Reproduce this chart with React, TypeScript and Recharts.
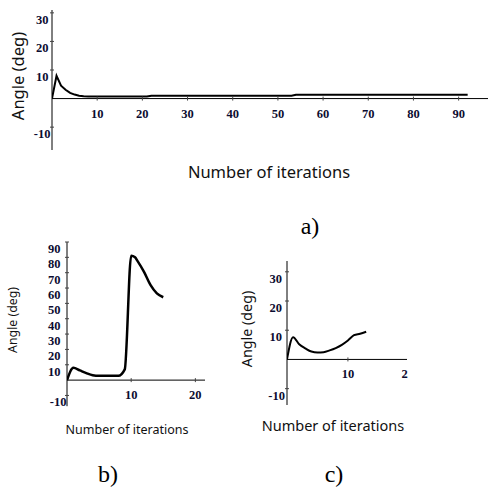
import React from 'react';
import { LineChart, Line, XAxis, YAxis, ReferenceLine, ReferenceDot } from 'recharts';

// a) long run, 92 iterations
const iterA = [0, 1, 2, 3, 4, 5, 6, 7, 8, 21, 22, 53, 54, 92];
const angleA = [0, 8, 4.5, 3.1, 2, 1.4, 1, 0.8, 0.7, 0.7, 1.0, 1.0, 1.3, 1.3];
const yTicksA = [-10, 10, 20, 30];
const xTicksA = [10, 20, 30, 40, 50, 60, 70, 80, 90];
const xLabelsA = ['10', '20', '30', '40', '50', '60', '70', '80', '90'];

// b) jump around iteration 10
const iterB = [0, 1, 2, 3, 4, 5, 6, 7, 8, 9, 10, 10.6, 11, 12, 13, 14, 15];
const angleB = [0, 8, 6.3, 4.6, 3.2, 2.8, 2.8, 2.8, 2.8, 7, 81, 80, 77.5, 70.5, 62, 56.5, 54];
const yTicksB = [-10, 10, 20, 30, 40, 50, 60, 70, 80, 90];
const xTicksB = [10, 20];
const xLabelsB = ['10', '20'];

// c) slow recovery (the "20" label is cut to "2" at the frame edge in the original)
const iterC = [0, 1, 2, 3, 4, 5, 6, 7, 8, 9, 10, 11, 12, 13];
const angleC = [0, 7.6, 5.2, 3.8, 2.7, 2.4, 2.5, 3.1, 3.9, 5, 6.5, 8.3, 8.8, 9.5];
const yTicksC = [-10, 10, 20, 30];
const xTicksC = [10, 20];
const xLabelsC = ['10', '2'];

const tickFont = { fontFamily: '"Liberation Serif", serif', fontWeight: 700, fontSize: 12.5, fill: '#0c0c30' };
const titleFont = { fontFamily: '"Noto Sans", sans-serif', fill: '#111' };

const rows = (xs: number[], ys: number[]) => xs.map((x, i) => ({ x, angle: ys[i] }));

const YTick = ({ x, y, payload, gap, negGap }: any) => {
  const g = payload.value < 0 ? negGap : gap;
  return (
    <g>
      <line x1={x - 2} x2={x + 2} y1={y} y2={y} stroke="#444" />
      <text x={x - g} y={y + 7} textAnchor="end" dominantBaseline="central" {...tickFont}>
        {payload.value}
      </text>
    </g>
  );
};

const xTickShape = (label: string, anchor: 'middle' | 'end', dx: number) => (p: any) => (
  <g>
    <line x1={p.cx} x2={p.cx} y1={p.cy - 2} y2={p.cy + 2} stroke="#444" />
    <text x={p.cx + dx} y={p.cy + 15} textAnchor={anchor} dominantBaseline="central" {...tickFont}>
      {label}
    </text>
  </g>
);

type PanelProps = {
  data: { x: number; angle: number }[];
  width: number;
  height: number;
  margin: { top: number; right: number; bottom: number; left: number };
  xMax: number;
  yDomain: [number, number];
  yTicks: number[];
  xTicks: number[];
  xLabels: string[];
  gap: number;
  negGap: number;
  strokeWidth: number;
  curve: 'linear' | 'monotone';
};

const AXIS_W = 30;

const Panel = (p: PanelProps) => (
  <LineChart
    width={p.width}
    height={p.height}
    data={p.data}
    margin={{ ...p.margin, left: p.margin.left - AXIS_W }}
  >
    <XAxis type="number" dataKey="x" domain={[0, p.xMax]} hide allowDataOverflow />
    <YAxis
      type="number"
      domain={p.yDomain}
      ticks={p.yTicks}
      width={AXIS_W}
      tickSize={0}
      tickMargin={0}
      tickLine={false}
      axisLine={{ stroke: '#000' }}
      allowDataOverflow
      interval={0}
      tick={(t: any) => <YTick {...t} gap={p.gap} negGap={p.negGap} />}
    />
    <ReferenceLine y={0} stroke="#000" />
    {p.xTicks.map((t, i) => {
      const short = p.xLabels[i].length < String(t).length;
      return (
        <ReferenceDot
          key={t}
          x={t}
          y={0}
          r={0}
          ifOverflow="visible"
          shape={xTickShape(p.xLabels[i], short ? 'end' : 'middle', short ? -1 : 0)}
        />
      );
    })}
    <Line
      type={p.curve}
      dataKey="angle"
      stroke="#000"
      strokeWidth={p.strokeWidth}
      dot={false}
      isAnimationActive={false}
    />
  </LineChart>
);

export default function App() {
  return (
    <div style={{ position: 'absolute', left: 0, top: 0, width: 488, height: 488, background: '#fff' }}>
      <div style={{ position: 'absolute', left: 0, top: 0 }}>
        <Panel
          data={rows(iterA, angleA)}
          width={488}
          height={160}
          margin={{ top: 10, right: 0, bottom: 10, left: 52 }}
          xMax={96.5}
          yDomain={[-18, 31]}
          yTicks={yTicksA}
          xTicks={xTicksA}
          xLabels={xLabelsA}
          gap={3.5}
          negGap={1.5}
          strokeWidth={2}
          curve="linear"
        />
      </div>
      <div style={{ position: 'absolute', left: 0, top: 235 }}>
        <Panel
          data={rows(iterB, angleB)}
          width={210}
          height={180}
          margin={{ top: 7, right: 5, bottom: 8.8, left: 67 }}
          xMax={21.5}
          yDomain={[-17, 90]}
          yTicks={yTicksB}
          xTicks={xTicksB}
          xLabels={xLabelsB}
          gap={6.5}
          negGap={0.5}
          strokeWidth={2.5}
          curve="monotone"
        />
      </div>
      <div style={{ position: 'absolute', left: 230, top: 251 }}>
        <Panel
          data={rows(iterC, angleC)}
          width={178}
          height={164}
          margin={{ top: 10, right: 1, bottom: 10, left: 57 }}
          xMax={19.7}
          yDomain={[-15.6, 33.7]}
          yTicks={yTicksC}
          xTicks={xTicksC}
          xLabels={xLabelsC}
          gap={5}
          negGap={2}
          strokeWidth={2}
          curve="monotone"
        />
      </div>
      <svg width={488} height={488} style={{ position: 'absolute', left: 0, top: 0, pointerEvents: 'none' }}>
        <text x={24} y={76} transform="rotate(-90 24 76)" textAnchor="middle" fontSize={16.5} {...titleFont}>
          Angle (deg)
        </text>
        <text x={269} y={178} textAnchor="middle" fontSize={16.5} {...titleFont}>
          Number of iterations
        </text>
        <text x={310} y={234} textAnchor="middle" fontSize={24} fontFamily='"Liberation Serif", serif' fill="#000">
          a)
        </text>
        <text x={17} y={320} transform="rotate(-90 17 320)" textAnchor="middle" fontSize={12.3} {...titleFont}>
          Angle (deg)
        </text>
        <text x={127} y={434} textAnchor="middle" fontSize={12.5} {...titleFont}>
          Number of iterations
        </text>
        <text x={108} y={482} textAnchor="middle" fontSize={24} fontFamily='"Liberation Serif", serif' fill="#000">
          b)
        </text>
        <text x={252} y={329} transform="rotate(-90 252 329)" textAnchor="middle" fontSize={14.3} {...titleFont}>
          Angle (deg)
        </text>
        <text x={333} y={431} textAnchor="middle" fontSize={14.5} {...titleFont}>
          Number of iterations
        </text>
        <text x={334} y={482} textAnchor="middle" fontSize={24} fontFamily='"Liberation Serif", serif' fill="#000">
          c)
        </text>
      </svg>
    </div>
  );
}
